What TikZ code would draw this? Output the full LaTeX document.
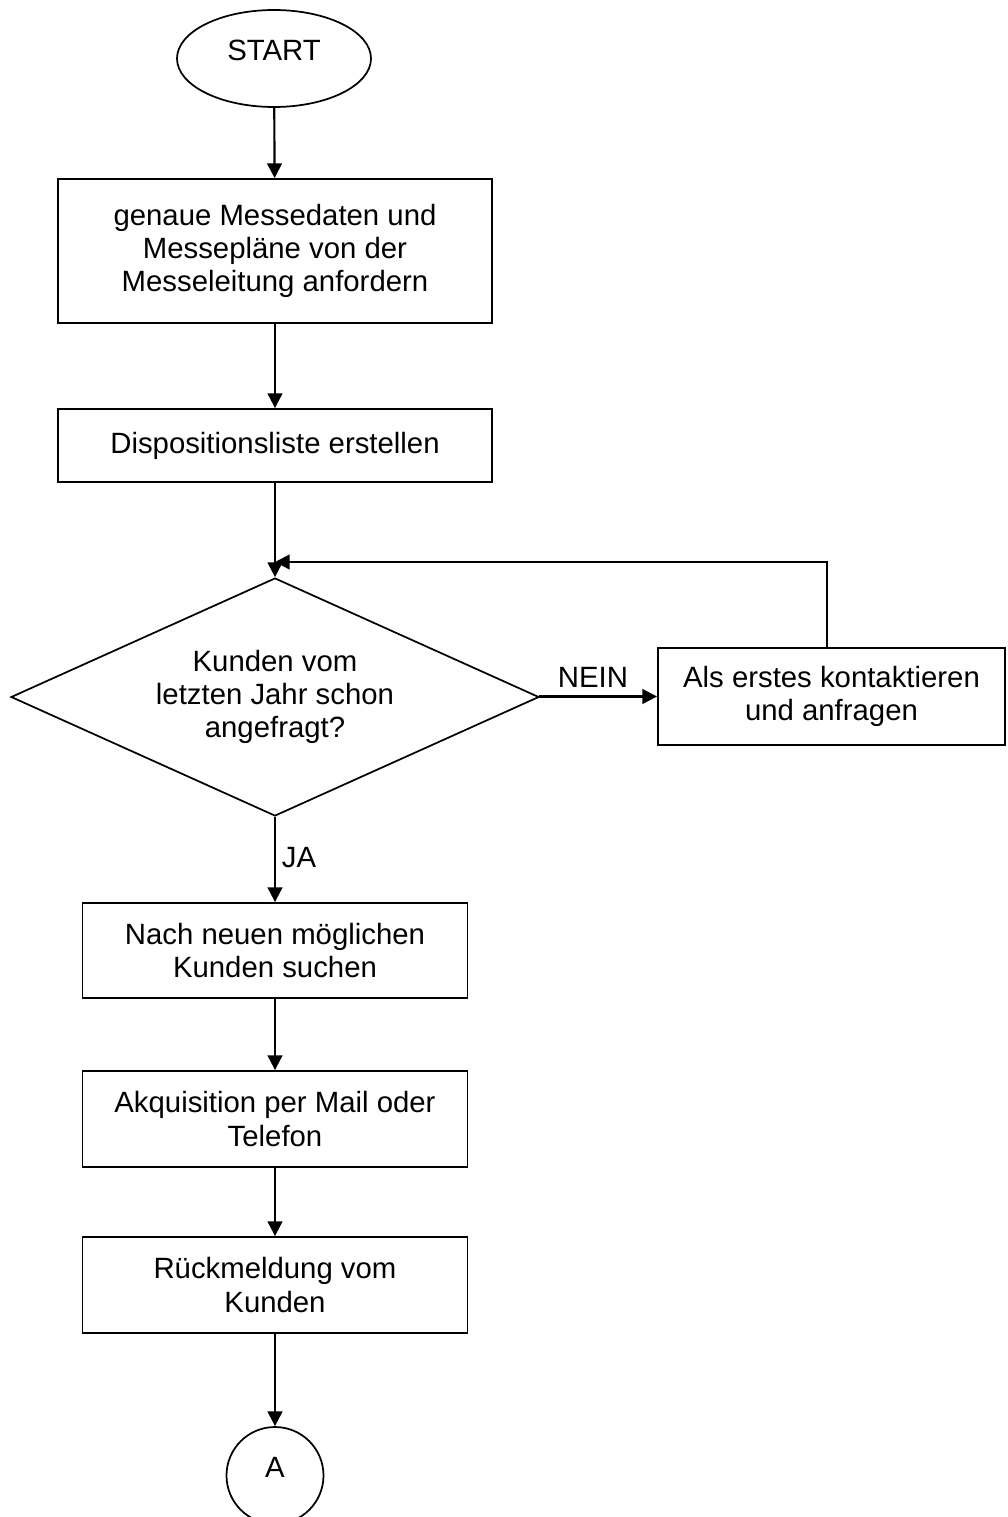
\documentclass[tikz,border=0pt]{standalone}
\usepackage{fontspec}
\setmainfont{Liberation Sans}
\usetikzlibrary{shapes.geometric,arrows.meta}
\begin{document}
\begin{tikzpicture}[x=0.75pt,y=-0.75pt,
  every node/.style={font=\fontsize{22}{25}\selectfont, align=center, inner sep=0pt},
  procbox/.style={draw, line width=1.4pt, rectangle},
  decision/.style={draw, line width=1.3pt, diamond, shape aspect=2.218, minimum width=396pt, minimum height=178.5pt},
  terminal/.style={draw, line width=1.3pt, ellipse},
  arr/.style={line width=1.6pt, -{Triangle[length=11pt,width=11pt]}},
  lbl/.style={anchor=base}]
\fill[white] (0,0) rectangle (1007,1517);
\useasboundingbox (0,0) rectangle (1007,1517);

\node[terminal, minimum width=145.5pt, minimum height=72.75pt] (start) at (274,58.5) {\raisebox{12.8pt}{START}};
\node[procbox, minimum width=325.5pt, minimum height=108pt] (b1) at (275,251)
  {genaue Messedaten und\\Messepläne von der\\Messeleitung anfordern};
\node[procbox, minimum width=325.5pt, minimum height=54.75pt] (b2) at (275,445.5)
  {Dispositionsliste erstellen};
\node[decision] (dec) at (275,697) {Kunden vom\\letzten Jahr schon\\angefragt?};
\node[procbox, minimum width=260.25pt, minimum height=72.75pt] (b3) at (831.5,696.5)
  {Als erstes kontaktieren\\und anfragen};
\node[procbox, minimum width=288.75pt, minimum height=71.25pt] (b4) at (275,950.5)
  {Nach neuen möglichen\\Kunden suchen};
\node[procbox, minimum width=288.75pt, minimum height=72pt] (b5) at (275,1119)
  {Akquisition per Mail oder\\Telefon};
\node[procbox, minimum width=288.75pt, minimum height=72pt] (b6) at (275,1285)
  {Rückmeldung vom\\Kunden};
\node[terminal, circle, minimum size=72.75pt] (A) at (275,1475.5) {\raisebox{12.8pt}{A}};

\coordinate (lc) at (827,562);
\coordinate (lj) at (275,562);

\draw[arr] (start) -- (b1);
\draw[arr] (b1) -- (b2);
\draw[arr] (b2) -- (dec.north);
\draw[arr] (b3.north -| lc) -- (lc) -- (lj);
\draw[arr] (dec.east) -- (b3.west -| dec.east) -- (b3.west);
\draw[arr] (dec.south) -- (b4.north);
\draw[arr] (b4) -- (b5);
\draw[arr] (b5) -- (b6);
\draw[arr] (b6) -- (A);

\node[lbl] (nein) at (593,687) {NEIN};
\node[lbl] (ja) at (299,867) {JA};
\end{tikzpicture}
\end{document}
